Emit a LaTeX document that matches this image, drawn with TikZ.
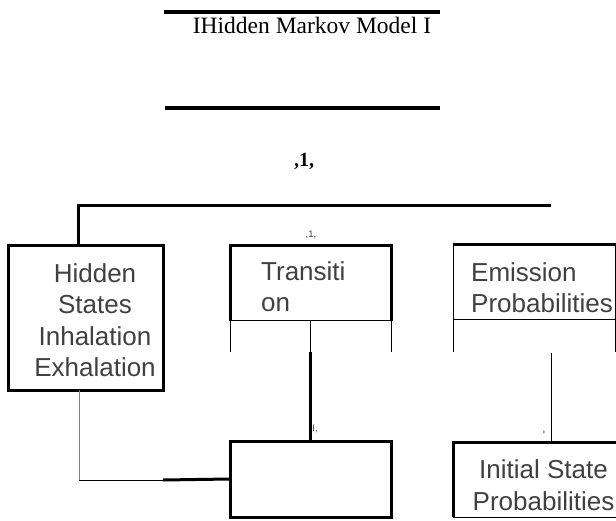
\documentclass[tikz,border=0pt]{standalone}
\usepackage{fontspec}
\setmainfont{Liberation Serif}
\newfontfamily\hmmsans{Liberation Sans}
\usepackage{xcolor,tikz}
\definecolor{txtgray}{HTML}{404040}

\tikzset{
  hmmbox/.style={rectangle,inner sep=0pt,outer sep=0pt},
  boxtext/.style={font={\hmmsans\fontsize{26}{31.5}\selectfont},text=txtgray,inner sep=0pt},
  tinytext/.style={font={\hmmsans\fontsize{9.5}{10}\selectfont},text=txtgray,inner sep=0pt},
  heavy/.style={line width=3pt},
  light/.style={line width=1pt},
}

\begin{document}
\begin{tikzpicture}[x=1pt,y=-1pt]
\useasboundingbox (0,0) rectangle (616,521);
% title
\draw[line width=3.3pt] (164,12) -- (440,12);
\node[anchor=base,inner sep=0pt,font=\fontsize{23.5}{26}\selectfont] (title) at (312,34) {IHidden Markov Model I};
\draw[line width=3.3pt] (165,108) -- (440,108);
\node[anchor=base,inner sep=0pt,font=\bfseries\fontsize{20}{22}\selectfont] (mark) at (304,167) {,1,};
% boxes
\node[hmmbox,minimum width=155pt,minimum height=144pt] (hidden) at (85.5,318) {};
\node[hmmbox,minimum width=161pt,minimum height=75pt] (trans) at (310.5,283.5) {};
\node[hmmbox,minimum width=162pt,minimum height=75pt] (emis) at (534,282.5) {};
\node[hmmbox,minimum width=161pt,minimum height=76pt] (trmat) at (310.5,479) {};
\node[hmmbox,minimum width=164pt,minimum height=75pt] (init) at (535,479.5) {};
\draw[heavy] (hidden.north west) rectangle (hidden.south east);
\draw[heavy] (trmat.north west) rectangle (trmat.south east);
\draw[heavy] (trans.south west) |- (trans.north east) -- (trans.south east);
\draw[light] (trans.south west) -- (trans.south east);
\draw[heavy] (emis.north west) -- (emis.north east) -- ++(2,0);
\draw[light] (emis.south west) -- (emis.south east);
\draw[heavy] (init.north east) -| (init.south west);
\draw[light] (init.south west) -- (init.south east);
% texts (base = last line)
\node[boxtext,align=center,anchor=base] (hiddentext) at (95,377) {Hidden\\States\\Inhalation\\Exhalation};
\node[boxtext,align=left,anchor=base west] (transtext) at (261,312) {Transiti\\on};
\node[boxtext,align=left,anchor=base west] (emistext) at (471,313) {Emission\\Probabilities};
\node[boxtext,align=center,anchor=base] (inittext) at (543.5,510) {Initial State\\Probabilities};
\node[tinytext] (tmark) at (311,235) {,1,};
\node[tinytext] (lmark) at (315,429) {I,};
\node[tinytext,font={\hmmsans\fontsize{12}{12}\selectfont}] (rmark) at (544,435) {\textquotesingle};
% connectors
\coordinate (busend) at (551,206);
\draw[heavy] ([xshift=-7pt]hidden.north) |- (busend);
\coordinate (tleg) at (310.5,352);
\draw[light] (trans.south west) -- ++(0,31);
\draw[light] (trans.south east) -- ++(0,31);
\draw[light] (trans.south) -- (tleg);
\draw[heavy] (tleg) -- (trmat.north);
\draw[light] (emis.north west) -- ++(0,107);
\draw[light] (emis.north east) -- ++(0,107);
\coordinate (eleg) at (551.5,353);
\draw[light] (eleg) -- (eleg |- init.north);
\coordinate (elbow) at (79,480);
\coordinate (joint) at (163,480);
\draw[light,gray] (elbow |- hidden.south) -- (elbow);
\draw[light] (elbow) -- (joint);
\draw[heavy] (joint) -- (trmat.west);
\end{tikzpicture}
\end{document}
